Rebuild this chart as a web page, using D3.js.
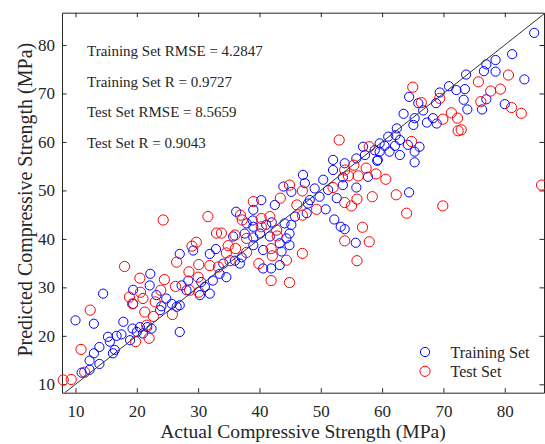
<!DOCTYPE html>
<html>
<head>
<meta charset="utf-8">
<script src="https://cdn.jsdelivr.net/npm/d3@7"></script>
<style>
  body { margin: 0; background: #fff; }
  #chart-area text { font-family: "Liberation Serif", "Times New Roman", serif; fill: #262626; }
  .axis path, .axis line { stroke: #262626; stroke-width: 1; }
</style>
</head>
<body>
<div id="chart-area"></div>
<script>
// [actual, predicted] pairs (MPa)
var trainingSet = [
  [10.0,23.2],[11.0,12.4],[12.3,13.0],[13.0,22.5],[13.0,16.4],[12.3,14.9],[13.9,14.2],[13.9,17.7],
  [14.5,28.7],[15.3,19.8],[15.6,18.8],[16.1,16.4],[16.4,17.1],[16.7,20.0],[17.5,20.3],[17.8,22.9],
  [18.9,19.1],[19.3,21.5],[19.4,29.5],[19.4,26.6],[20.0,20.8],[20.5,21.8],[21.0,20.5],[21.7,21.8],
  [22.4,21.5],[22.1,30.4],[22.2,32.8],[23.2,28.4],[23.8,25.3],[24.0,26.1],[24.8,27.7],[25.7,26.6],
  [26.5,26.0],[27.0,26.3],[27.0,20.8],[27.0,36.9],[27.3,30.4],[28.1,29.4],[28.4,31.4],[29.2,37.6],
  [30.3,28.4],[30.5,31.1],[31.1,30.1],[31.9,36.9],[31.9,28.7],[32.4,31.4],[32.9,37.9],[33.5,32.8],
  [34.1,34.9],[34.6,32.1],
  [36.2,45.6],[39.0,46.0],[40.3,48.0],[42.5,47.0],[43.9,50.8],[45.2,49.7],[47.1,53.2],[47.4,51.5],
  [49.0,50.4],[49.8,48.7],[48.2,48.0],[45.8,44.6],[44.1,43.2],[44.9,41.1],[47.7,45.3],[47.9,47.3],
  [41.1,42.9],[41.7,40.5],[40.1,41.1],[39.0,42.5],[37.9,43.2],[39.0,38.7],[40.6,37.7],[43.3,39.1],
  [44.4,40.1],[44.9,38.7],[43.6,37.4],[40.6,33.9],[41.9,33.9],[43.3,34.6],[37.6,41.1],[35.7,40.5],
  [36.0,35.5],[36.8,34.9],[37.1,36.2],[39.0,40.3],[42.0,43.4],[38.9,43.8],[45.2,42.9],
  [59.6,59.7],[60.4,59.2],[61.2,58.0],[59.6,58.0],[58.8,58.3],[56.9,59.0],[55.8,56.6],[57.2,57.3],
  [59.3,56.3],[52.0,56.3],[53.9,55.6],[52.0,54.2],[53.6,52.7],[57.7,52.8],[50.4,52.2],[53.6,51.1],
  [55.8,50.6],[52.6,48.4],[50.8,46.1],[52.2,44.0],[61.0,61.1],[62.1,59.2],[51.2,50.1],[59.2,56.1],
  [70.9,71.5],[72.1,70.7],[73.5,70.9],[69.4,70.2],[73.3,68.7],[68.8,68.0],[73.9,66.7],[64.4,69.3],
  [65.9,68.0],[66.7,66.5],[63.5,65.8],[65.3,64.9],[68.3,64.9],[67.3,64.0],[68.9,63.8],[65.1,63.5],
  [62.4,62.8],[62.2,61.4],[62.9,60.4],[66.1,59.0],[64.2,59.4],[65.3,58.0],[62.9,57.3],[65.3,55.8],
  [64.4,49.6],
  [84.8,82.5],[81.2,78.1],[83.2,72.9],[78.5,76.9],[77.0,76.0],[78.5,74.5],[76.6,74.6],[73.7,73.9],
  [80.0,67.8],[76.3,66.7],[77.0,68.8],
  [53.25,42.5],[53.9,42.0],[55.7,39.2]
];

var testSet = [
  [8.0,10.9],[9.3,11.0],[10.9,17.2],[11.5,12.5],[12.4,25.3],[18.0,34.3],[18.8,28.0],[19.3,26.6],
  [19.8,18.8],[20.5,31.9],[20.6,29.0],[21.0,27.7],[21.3,24.9],[21.6,22.2],[22.0,19.5],[22.7,24.0],
  [23.0,27.0],[23.9,29.4],[24.3,43.9],[24.5,31.6],[25.8,24.4],[26.5,35.2],[26.3,30.2],[28.5,33.2],
  [28.6,29.4],[29.0,38.5],[29.7,39.3],[30.0,32.1],[30.1,34.7],[30.1,29.0],[31.6,44.6],[31.9,34.5],
  [33.0,41.2],[33.8,41.2],[33.3,34.2],[34.6,37.1],[34.9,38.6],
  [35.2,35.5],[39.0,47.7],[36.9,44.9],[37.2,43.9],[36.0,40.8],[37.9,40.1],[36.1,38.0],[37.9,37.2],
  [39.9,34.9],[40.3,44.2],[41.7,44.6],[40.3,42.5],[42.8,41.8],[42.9,40.6],[41.9,38.0],[42.1,36.5],
  [44.4,35.6],[43.4,48.4],[44.9,51.1],[46.1,47.0],[47.0,49.9],[47.0,44.9],[47.0,37.0],[49.3,46.1],
  [41.9,31.4],[44.9,31.0],
  [53.0,60.4],[57.9,59.0],[55.4,55.2],[57.4,54.6],[53.9,54.2],[54.5,53.0],[56.1,53.0],[59.0,53.4],
  [60.6,52.3],[52.0,50.6],[53.9,47.5],[55.9,48.2],[55.0,46.8],[58.4,48.7],[62.3,49.1],[64.0,45.3],
  [64.8,60.1],
  [65.0,71.3],[66.4,68.1],[69.4,69.0],[69.9,64.7],[71.3,66.0],[72.3,64.9],[72.4,62.3],[72.9,62.5],
  [80.6,73.8],[75.7,72.4],[77.7,70.5],[79.3,70.9],[76.1,68.3],[81.1,67.1],[82.7,65.9],[86.0,51.1],
  [69.9,46.8],[56.8,42.4],[53.9,39.6],[57.9,39.4],[55.9,35.5]
];

var xDomain = [7.8, 86.4];
var yDomain = [8.27, 86.66];
var tickValues = [10, 20, 30, 40, 50, 60, 70, 80];

var statLines = [
  "Training Set RMSE = 4.2847",
  "Training Set R = 0.9727",
  "Test Set RMSE = 8.5659",
  "Test Set R = 0.9043"
];

var seriesNames = ["Training Set", "Test Set"];
var seriesColors = ["#0000ff", "#ff0000"];


ScatterChart = function(_parentElement){
    this.parentElement = _parentElement;
    this.initVis();
};

ScatterChart.prototype.initVis = function(){
    var vis = this;

    vis.margin = {top: 12.7, bottom: 51.3, left: 62, right: 1};
    vis.width = 545 - vis.margin.left - vis.margin.right;
    vis.height = 444 - vis.margin.top - vis.margin.bottom;

    vis.svg = d3.select("#" + vis.parentElement).append("svg")
        .attr("width", 545)
        .attr("height", 444)
        .append("g")
        .attr("transform", "translate(" + vis.margin.left + "," + vis.margin.top + ")");

    vis.x = d3.scaleLinear().domain(xDomain).range([0, vis.width]);
    vis.y = d3.scaleLinear().domain(yDomain).range([vis.height, 0]);

    // axes, ticks pointing inward on all four sides
    vis.svg.append("g")
        .attr("class", "x axis")
        .attr("transform", "translate(0," + vis.height + ")")
        .call(d3.axisBottom(vis.x).tickValues(tickValues).tickSizeInner(-4.5).tickSizeOuter(0).tickPadding(12))
        .selectAll("text").style("font-size", "17px");

    vis.svg.append("g")
        .attr("class", "y axis")
        .call(d3.axisLeft(vis.y).tickValues(tickValues).tickSizeInner(-4.5).tickSizeOuter(0).tickPadding(7))
        .selectAll("text").style("font-size", "17px");

    vis.svg.append("g")
        .attr("class", "axis")
        .call(d3.axisTop(vis.x).tickValues(tickValues).tickSizeInner(-4.5).tickSizeOuter(0).tickFormat(""));

    vis.svg.append("g")
        .attr("class", "axis")
        .attr("transform", "translate(" + vis.width + ",0)")
        .call(d3.axisRight(vis.y).tickValues(tickValues).tickSizeInner(-4.5).tickSizeOuter(0).tickFormat(""));

    vis.svg.selectAll(".axis .domain").attr("fill", "none");

    // axis titles
    vis.svg.append("text")
        .attr("x", vis.width / 2)
        .attr("y", vis.height + 45)
        .style("text-anchor", "middle")
        .style("font-size", "19.6px")
        .text("Actual Compressive Strength (MPa)");

    vis.svg.append("text")
        .attr("transform", "rotate(-90)")
        .attr("x", -vis.height / 2 + 3)
        .attr("y", -30.5)
        .style("text-anchor", "middle")
        .style("font-size", "20px")
        .text("Predicted Compressive Strength (MPa)");

    // scatter points
    vis.svg.append("g").selectAll("circle")
        .data(trainingSet)
        .enter().append("circle")
        .attr("cx", function(d) { return vis.x(d[0]); })
        .attr("cy", function(d) { return vis.y(d[1]); })
        .attr("r", 4.6)
        .attr("fill", "none")
        .attr("stroke", seriesColors[0])
        .attr("stroke-width", 1);

    vis.svg.append("g").selectAll("circle")
        .data(testSet)
        .enter().append("circle")
        .attr("cx", function(d) { return vis.x(d[0]); })
        .attr("cy", function(d) { return vis.y(d[1]); })
        .attr("r", 5.1)
        .attr("fill", "none")
        .attr("stroke", seriesColors[1])
        .attr("stroke-width", 1);

    // y = x reference line
    var lo = Math.max(xDomain[0], yDomain[0]), hi = Math.min(xDomain[1], yDomain[1]);
    vis.svg.append("line")
        .attr("x1", vis.x(lo)).attr("y1", vis.y(lo))
        .attr("x2", vis.x(hi)).attr("y2", vis.y(hi))
        .attr("stroke", "#333")
        .attr("stroke-width", 1);

    // stats text
    vis.svg.selectAll(".stat")
        .data(statLines)
        .enter().append("text")
        .attr("class", "stat")
        .attr("x", 25)
        .attr("y", function(d, i) { return 43.5 + i * 30.5; })
        .style("font-size", "15px")
        .text(function(d) { return d; });

    //Legend
    vis.legend = vis.svg.selectAll(".legend")
        .data(seriesNames)
        .enter().append("g")
        .attr("class", "legend")
        .attr("transform", function(d, i) { return "translate(0," + (339.3 + i * 19.3) + ")"; });

    vis.legend.append("circle")
        .attr("cx", 363)
        .attr("r", function(d, i) { return i ? 5.1 : 4.6; })
        .attr("fill", "none")
        .attr("stroke", function(d, i) { return seriesColors[i]; });

    vis.legend.append("text")
        .attr("x", 388.5)
        .attr("dy", ".35em")
        .style("font-size", "16px")
        .text(function(d) { return d; });
};

new ScatterChart("chart-area");
</script>
</body>
</html>
